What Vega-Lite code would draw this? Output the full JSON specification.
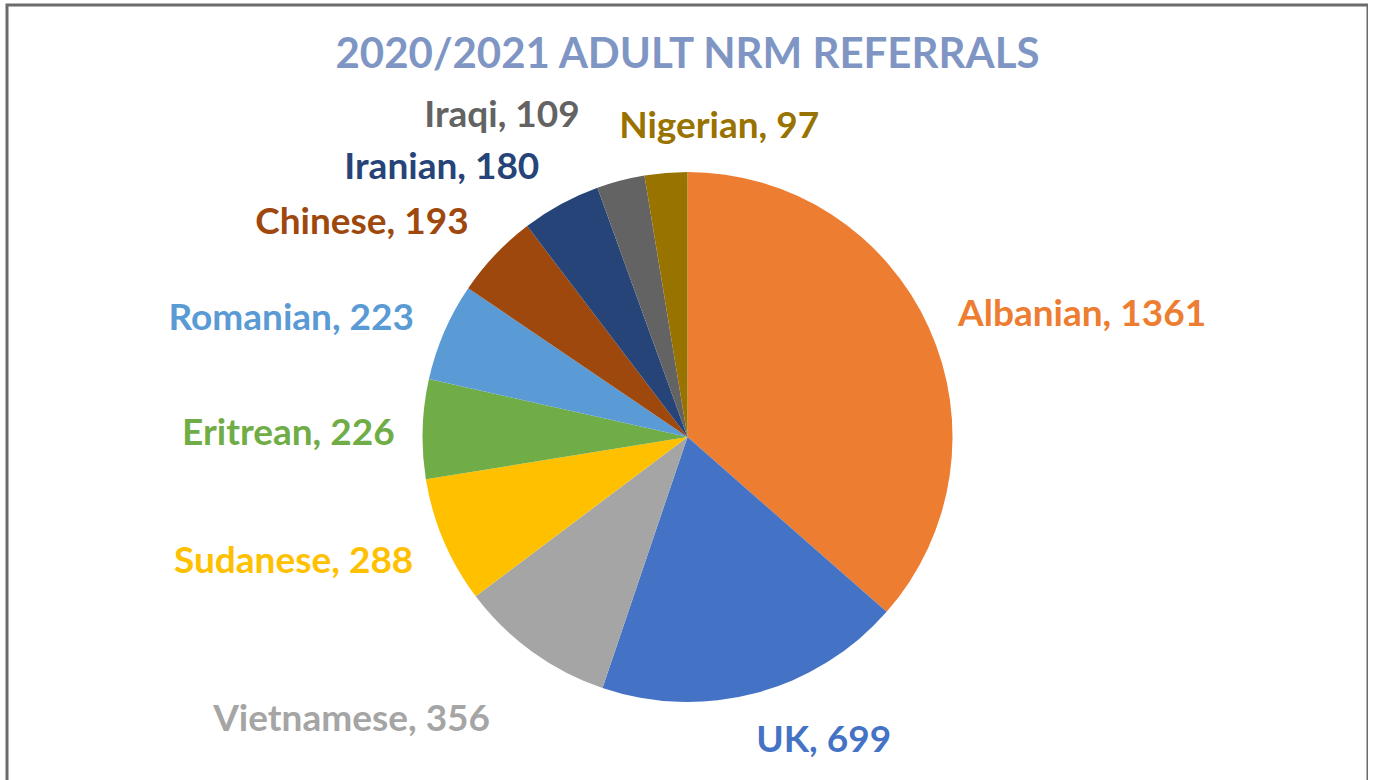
{
  "$schema": "https://vega.github.io/schema/vega-lite/v6.json",
  "autosize": {"type": "none"},
  "padding": {"left": 7, "top": 5, "right": 0, "bottom": 0},
  "width": 1361,
  "height": 864,
  "background": "white",
  "view": {"stroke": "#6b6b6b", "strokeWidth": 3, "fill": "white"},
  "title": {
    "text": "2020/2021 ADULT NRM REFERRALS",
    "orient": "top",
    "anchor": "middle",
    "offset": 0,
    "dy": 105,
    "baseline": "alphabetic",
    "font": "Lato",
    "fontSize": 42,
    "fontWeight": "bold",
    "color": "#7f96c4"
  },
  "data": {
    "values": [
      {"country": "Albanian", "n": 1361},
      {"country": "UK", "n": 699},
      {"country": "Vietnamese", "n": 356},
      {"country": "Sudanese", "n": 288},
      {"country": "Eritrean", "n": 226},
      {"country": "Romanian", "n": 223},
      {"country": "Chinese", "n": 193},
      {"country": "Iranian", "n": 180},
      {"country": "Iraqi", "n": 109},
      {"country": "Nigerian", "n": 97}
    ]
  },
  "transform": [{"calculate": "datum.country + ', ' + datum.n", "as": "label"}],
  "encoding": {
    "theta": {"field": "n", "type": "quantitative", "stack": true},
    "order": {"field": "n", "type": "quantitative", "sort": "descending"},
    "color": {
      "field": "country",
      "type": "nominal",
      "legend": null,
      "scale": {
        "domain": ["Albanian", "UK", "Vietnamese", "Sudanese", "Eritrean", "Romanian", "Chinese", "Iranian", "Iraqi", "Nigerian"],
        "range": ["#ED7D31", "#4472C4", "#A5A5A5", "#FFC000", "#70AD47", "#5B9BD5", "#9E480E", "#264478", "#636363", "#997300"]
      }
    }
  },
  "layer": [
    {"mark": {"type": "arc", "outerRadius": 265}},
    {"mark": {"type": "text", "radius": 297, "align": "left", "baseline": "middle", "font": "Lato", "fontSize": 37, "fontWeight": "bold"},
     "encoding": {"text": {"condition": {"test": "datum.country === 'Albanian'", "field": "label"}, "value": ""}}},
    {"mark": {"type": "text", "radius": 312, "dx": -12, "dy": 3, "align": "left", "baseline": "middle", "font": "Lato", "fontSize": 37, "fontWeight": "bold"},
     "encoding": {"text": {"condition": {"test": "datum.country === 'UK'", "field": "label"}, "value": ""}}},
    {"mark": {"type": "text", "radius": 342, "dx": 3, "dy": 6, "align": "right", "baseline": "middle", "font": "Lato", "fontSize": 37, "fontWeight": "bold"},
     "encoding": {"text": {"condition": {"test": "datum.country === 'Vietnamese'", "field": "label"}, "value": ""}}},
    {"mark": {"type": "text", "radius": 298, "dy": 8, "align": "right", "baseline": "middle", "font": "Lato", "fontSize": 37, "fontWeight": "bold"},
     "encoding": {"text": {"condition": {"test": "datum.country === 'Sudanese'", "field": "label"}, "value": ""}}},
    {"mark": {"type": "text", "radius": 293, "dy": 6, "align": "right", "baseline": "middle", "font": "Lato", "fontSize": 37, "fontWeight": "bold"},
     "encoding": {"text": {"condition": {"test": "datum.country === 'Eritrean'", "field": "label"}, "value": ""}}},
    {"mark": {"type": "text", "radius": 298, "align": "right", "baseline": "middle", "font": "Lato", "fontSize": 37, "fontWeight": "bold"},
     "encoding": {"text": {"condition": {"test": "datum.country === 'Romanian'", "field": "label"}, "value": ""}}},
    {"mark": {"type": "text", "radius": 307, "dx": 4, "dy": -3, "align": "right", "baseline": "middle", "font": "Lato", "fontSize": 37, "fontWeight": "bold"},
     "encoding": {"text": {"condition": {"test": "datum.country === 'Chinese'", "field": "label"}, "value": ""}}},
    {"mark": {"type": "text", "radius": 310, "dy": 3, "align": "right", "baseline": "middle", "font": "Lato", "fontSize": 37, "fontWeight": "bold"},
     "encoding": {"text": {"condition": {"test": "datum.country === 'Iranian'", "field": "label"}, "value": ""}}},
    {"mark": {"type": "text", "radius": 336, "dx": -23, "dy": 4, "align": "right", "baseline": "middle", "font": "Lato", "fontSize": 37, "fontWeight": "bold"},
     "encoding": {"text": {"condition": {"test": "datum.country === 'Iraqi'", "field": "label"}, "value": ""}}},
    {"mark": {"type": "text", "radius": 311, "dx": -43, "align": "left", "baseline": "middle", "font": "Lato", "fontSize": 37, "fontWeight": "bold"},
     "encoding": {"text": {"condition": {"test": "datum.country === 'Nigerian'", "field": "label"}, "value": ""}}}
  ]
}
